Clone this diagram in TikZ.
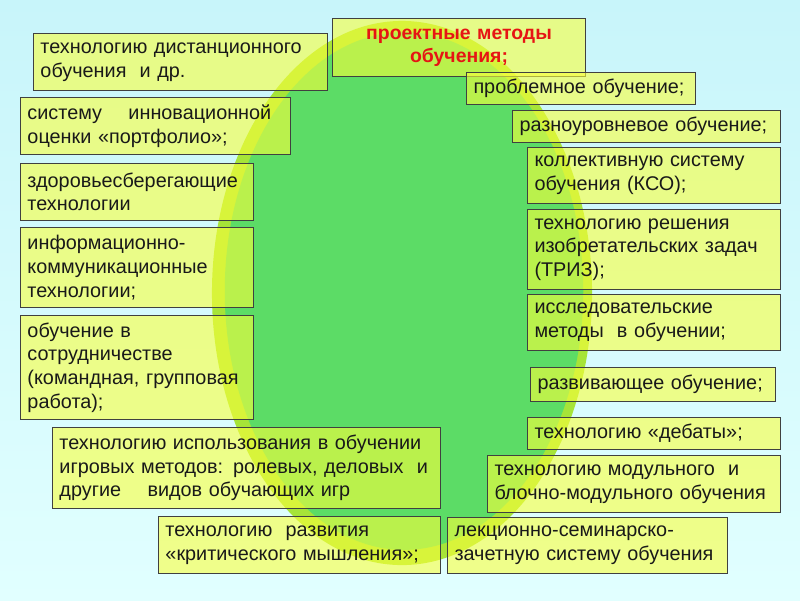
\documentclass[tikz,border=0pt]{standalone}
\usepackage{fontspec}
\setmainfont{Liberation Sans}
\usepackage{xcolor}
\definecolor{bgtop}{RGB}{200,245,250}
\definecolor{bgbot}{RGB}{225,255,255}
\definecolor{rimgreen}{RGB}{166,228,56}
\definecolor{ovalgreen}{RGB}{92,220,102}
\definecolor{boxyellow}{RGB}{250,255,60}
\definecolor{titlered}{RGB}{230,20,20}

\begin{document}
\begin{tikzpicture}[x=0.025cm, y=-0.025cm,
  item/.style={rectangle, draw=black!75, line width=0.7pt,
               fill=boxyellow, fill opacity=0.6, text opacity=1,
               anchor=north west, align=left, inner xsep=0.175cm, inner ysep=0pt,
               font=\fontsize{14.1}{16.8}\selectfont, text=black!90},
  head/.style={item, align=center, text=titlered,
               font=\fontsize{13.8}{16.6}\selectfont\bfseries}
]
\useasboundingbox (0,0) rectangle (800,600);
\shade[top color=bgtop, bottom color=bgbot] (0,0) rectangle (800,600);

% the oval
\fill[rimgreen] (402,293) ellipse [x radius=4.75cm, y radius=6.8cm];
\fill[ovalgreen] (404,291) ellipse [x radius=4.48cm, y radius=6.47cm];

\node[head, text width=5.975cm, minimum height=1.45cm] (proekt) at (332,18) {проектные методы\\обучения;};

\node[item, text width=7.0cm,   minimum height=1.425cm] (dist)  at (33,33)   {технологию дистанционного\\обучения~ и др.};
\node[item, text width=6.4cm,   minimum height=1.425cm] (portf) at (20,97)   {систему~ ~ инновационной\\оценки «портфолио»;};
\node[item, text width=5.475cm, minimum height=1.425cm] (zdor)  at (20,163)  {здоровьесберегающие\\технологии};
\node[item, text width=5.475cm, minimum height=2.0cm]   (ikt)   at (20,227)  {информационно-\\коммуникационные\\технологии;};
\node[item, text width=5.475cm, minimum height=2.6cm]   (sotr)  at (20,315)  {обучение в\\сотрудничестве\\(командная, групповая\\работа);};
\node[item, text width=9.35cm,  minimum height=2.025cm] (igr)   at (52,427)  {технологию использования в обучении\\игровых методов: ролевых, деловых~ и\\другие~ ~ видов обучающих игр};
\node[item, text width=6.7cm,   minimum height=1.425cm] (krit)  at (158,516) {технологию~ развития\\«критического мышления»;};

\node[item, text width=5.375cm, minimum height=0.8cm]   (probl) at (466,72)  {проблемное обучение;};
\node[item, text width=6.35cm,  minimum height=0.8cm]   (razn)  at (512,110) {разноуровневое обучение;};
\node[item, text width=5.975cm, minimum height=1.4cm]   (kso)   at (527,147) {коллективную систему\\обучения (КСО);};
\node[item, text width=5.975cm, minimum height=2.0cm]   (triz)  at (527,209) {технологию решения\\изобретательских задач\\(ТРИЗ);};
\node[item, text width=5.975cm, minimum height=1.4cm]   (issl)  at (527,294) {исследовательские\\методы~ в обучении;};
\node[item, text width=5.775cm, minimum height=0.85cm]  (razv)  at (530,367) {развивающее обучение;};
\node[item, text width=5.975cm, minimum height=0.8cm]   (debat) at (527,417) {технологию «дебаты»;};
\node[item, text width=6.975cm, minimum height=1.425cm] (modul) at (487,455) {технологию модульного~ и\\блочно-модульного обучения};
\node[item, text width=6.65cm,  minimum height=1.4cm]   (lekc)  at (447,517) {лекционно-семинарско-\\зачетную систему обучения};
\end{tikzpicture}
\end{document}
